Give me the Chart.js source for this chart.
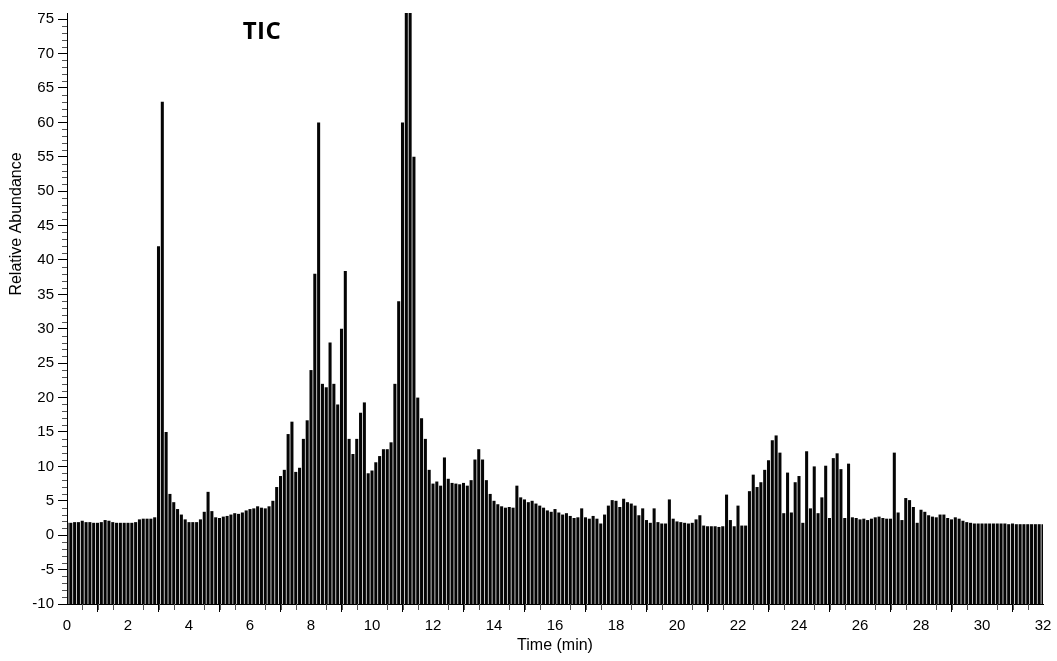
<!DOCTYPE html>
<html>
<head>
<meta charset="utf-8">
<script src="https://cdn.jsdelivr.net/npm/chart.js@4.4.1/dist/chart.umd.min.js"></script>
<style>
  html, body { margin: 0; padding: 0; background: #fff; }
  #wrap { width: 1057px; height: 661px; }
</style>
</head>
<body>
<div id="wrap"><canvas id="ticChart"></canvas></div>
<script>
// TIC chromatogram - one reading per scan, 8 scans per minute
const scanStart = 0;
const scanStep = 0.125;

// relative abundance per scan, one row per minute
const abundance = [
    1.8, 1.8, 1.9, 1.9, 2.1, 1.9, 1.9, 1.8,      // 0
    1.8, 1.9, 2.2, 2.1, 1.9, 1.8, 1.8, 1.8,      // 1
    1.8, 1.8, 1.9, 2.3, 2.4, 2.4, 2.4, 2.6,      // 2
    42, 63, 15, 6, 4.8, 3.8, 3.0, 2.3,           // 3
    1.9, 1.9, 1.9, 2.3, 3.4, 6.3, 3.5, 2.6,      // 4
    2.5, 2.7, 2.8, 3.0, 3.2, 3.1, 3.3, 3.6,      // 5
    3.8, 3.9, 4.2, 4.0, 3.9, 4.2, 5.0, 7.0,      // 6
    8.6, 9.5, 14.7, 16.5, 9.2, 9.8, 14, 16.7,    // 7
    24, 38, 60, 22, 21.5, 28, 22, 19,            // 8
    30, 38.4, 14, 11.8, 14, 17.8, 19.3, 9,       // 9
    9.4, 10.6, 11.5, 12.5, 12.5, 13.5, 22, 34,   // 10
    60, 85, 85, 55, 20, 17, 14, 9.5,             // 11
    7.5, 7.8, 7.2, 11.3, 8.2, 7.6, 7.5, 7.4,     // 12
    7.6, 7.2, 8.0, 11, 12.5, 11, 8, 6,           // 13
    5.0, 4.5, 4.2, 4.0, 4.1, 4.0, 7.2, 5.5,      // 14
    5.2, 4.8, 5.0, 4.6, 4.3, 4.0, 3.6, 3.4,      // 15
    3.8, 3.3, 3.0, 3.2, 2.8, 2.5, 2.6, 3.9,      // 16
    2.6, 2.4, 2.8, 2.4, 1.7, 3.0, 4.3, 5.1,      // 17
    5.0, 4.1, 5.3, 4.8, 4.6, 4.3, 2.9, 3.9,      // 18
    2.2, 1.8, 3.9, 1.9, 1.7, 1.7, 5.2, 2.4,      // 19
    2.0, 1.9, 1.8, 1.7, 1.8, 2.3, 2.9, 1.4,      // 20
    1.3, 1.3, 1.3, 1.2, 1.3, 5.9, 2.2, 1.3,      // 21
    4.3, 1.4, 1.4, 6.4, 8.8, 7.0, 7.7, 9.5,      // 22
    10.9, 13.8, 14.5, 12, 3.2, 9.1, 3.3, 7.7,    // 23
    8.6, 1.8, 12.2, 3.9, 10, 3.2, 5.5, 10.1,     // 24
    2.5, 11.2, 11.9, 9.6, 2.5, 10.4, 2.6, 2.5,   // 25
    2.3, 2.4, 2.2, 2.4, 2.6, 2.7, 2.5, 2.4,      // 26
    2.4, 12, 3.3, 2.2, 5.4, 5.1, 4.1, 1.8,       // 27
    3.7, 3.4, 2.9, 2.7, 2.6, 3.0, 3.0, 2.5,      // 28
    2.3, 2.6, 2.4, 2.1, 1.9, 1.8, 1.7, 1.7,      // 29
    1.7, 1.7, 1.7, 1.7, 1.7, 1.7, 1.7, 1.6,      // 30
    1.7, 1.6, 1.6, 1.6, 1.6, 1.6, 1.6, 1.6,      // 31
    1.6                                          // 32
];

const xTickValues = [0, 2, 4, 6, 8, 10, 12, 14, 16, 18, 20, 22, 24, 26, 28, 30, 32];
const yTickValues = [-10, -5, 0, 5, 10, 15, 20, 25, 30, 35, 40, 45, 50, 55, 60, 65, 70, 75];
const baseLevel = -10;
const traceLabel = 'TIC';
const yTitle = 'Relative Abundance';
const labelFont = '"Liberation Sans", Arial, sans-serif';

// minor tick marks between the labelled ones
const minorTicks = {
    id: 'minorTicks',
    afterDraw(chart) {
        const { ctx } = chart;
        const x = chart.scales.x;
        const y = chart.scales.y;
        ctx.save();
        ctx.strokeStyle = '#555';
        ctx.lineWidth = 1;
        ctx.beginPath();
        for (let v = Math.ceil(y.min); v <= y.max; v++) {
            if (v % 5 === 0) continue;
            const py = Math.round(y.getPixelForValue(v)) + 0.5;
            ctx.moveTo(y.right - 5, py);
            ctx.lineTo(y.right, py);
        }
        for (let v = x.min; v <= x.max; v += 0.5) {
            if (v % 2 === 0) continue;
            const px = Math.round(x.getPixelForValue(v)) + 0.5;
            ctx.moveTo(px, x.top);
            ctx.lineTo(px, x.top + 6);
        }
        ctx.stroke();
        ctx.restore();
    }
};

// trace name inside the plot and the y title (sits above centre in the original)
const extraText = {
    id: 'extraText',
    afterDraw(chart) {
        const { ctx, chartArea } = chart;
        ctx.save();
        ctx.fillStyle = '#000';
        ctx.font = 'bold 24px "Open Sans", "Liberation Sans", sans-serif';
        ctx.letterSpacing = '0.5px';
        ctx.textAlign = 'center';
        ctx.textBaseline = 'middle';
        ctx.fillText(traceLabel, chartArea.left + 195, 32);
        ctx.restore();

        ctx.save();
        ctx.fillStyle = '#000';
        ctx.font = '16px ' + labelFont;
        ctx.textAlign = 'center';
        ctx.textBaseline = 'middle';
        ctx.translate(17, 224);
        ctx.rotate(-Math.PI / 2);
        ctx.fillText(yTitle, 0, 0);
        ctx.restore();
    }
};

const ctx = document.getElementById('ticChart').getContext('2d');

const ticChart = new Chart(ctx, {
    type: 'bar',
    data: {
        datasets: [{
            label: traceLabel,
            data: abundance.map((v, i) => ({ x: scanStart + i * scanStep, y: [baseLevel, v] })),
            backgroundColor: '#050505',
            borderWidth: 0,
            barPercentage: 0.8,
            categoryPercentage: 1.0
        }]
    },
    options: {
        responsive: true,
        maintainAspectRatio: false,
        animation: false,
        layout: {
            padding: { top: 5, right: 14, left: 0, bottom: 0 }
        },
        plugins: {
            legend: { display: false },
            tooltip: { enabled: false }
        },
        scales: {
            x: {
                type: 'linear',
                min: 0,
                max: 32,
                offset: false,
                afterBuildTicks: (scale) => {
                    scale.ticks = xTickValues.map(v => ({ value: v }));
                },
                afterFit: (scale) => {
                    scale.height = 57;
                },
                ticks: {
                    color: '#000',
                    padding: 5,
                    maxRotation: 0,
                    autoSkip: false,
                    font: { family: labelFont, size: 15 }
                },
                grid: {
                    drawOnChartArea: false,
                    drawTicks: true,
                    tickLength: 8,
                    tickColor: '#000'
                },
                border: { display: true, color: '#000', width: 1 },
                title: {
                    display: true,
                    text: 'Time (min)',
                    color: '#000',
                    padding: { top: 0, bottom: 6 },
                    font: { family: labelFont, size: 16 }
                }
            },
            y: {
                min: -10,
                max: 75.9,
                afterBuildTicks: (scale) => {
                    scale.ticks = yTickValues.map(v => ({ value: v }));
                },
                afterFit: (scale) => {
                    scale.width = 67;
                },
                ticks: {
                    color: '#000',
                    padding: 4,
                    autoSkip: false,
                    font: { family: labelFont, size: 15 }
                },
                grid: {
                    drawOnChartArea: false,
                    drawTicks: true,
                    tickLength: 9,
                    tickColor: '#000'
                },
                border: { display: true, color: '#000', width: 1 }
            }
        }
    },
    plugins: [minorTicks, extraText]
});
</script>
</body>
</html>
